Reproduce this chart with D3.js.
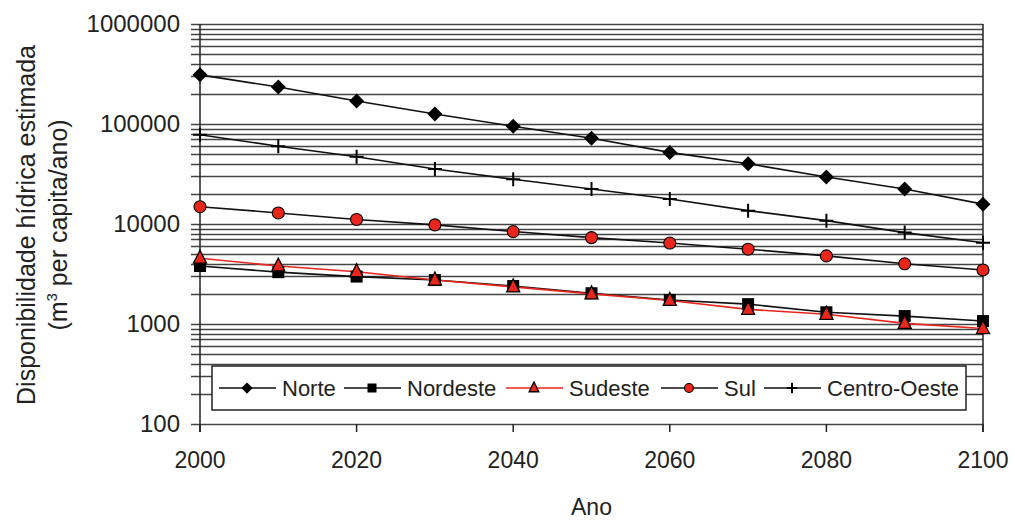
<!DOCTYPE html>
<html>
<head>
<meta charset="utf-8">
<script src="https://cdn.jsdelivr.net/npm/d3@7"></script>
<style>
  body { margin: 0; background: #fff; }
  svg { display: block; }
</style>
</head>
<body>
<svg id="chart" width="1015" height="522"></svg>
<script>
const years = [2000, 2010, 2020, 2030, 2040, 2050, 2060, 2070, 2080, 2090, 2100]
const norte = [310000, 234000, 170000, 126000, 95000, 72000, 52000, 40000, 29500, 22400, 15800]
const nordeste = [3800, 3300, 2980, 2750, 2400, 2030, 1740, 1580, 1310, 1200, 1070]
const sudeste = [4550, 3800, 3330, 2750, 2350, 2000, 1720, 1400, 1250, 1015, 900]
const sul = [14900, 12900, 11100, 9800, 8400, 7300, 6450, 5600, 4800, 4000, 3470]
const centroOeste = [78000, 60000, 47000, 35500, 28000, 22400, 17800, 13600, 10800, 8200, 6500]
const yTicks = [100, 1000, 10000, 100000, 1000000]
const xTicks = [2000, 2020, 2040, 2060, 2080, 2100]

const series = [
  { name: 'Norte', values: norte, line: '#111', marker: 'diamond' },
  { name: 'Nordeste', values: nordeste, line: '#111', marker: 'square' },
  { name: 'Sudeste', values: sudeste, line: '#e8261c', marker: 'triangle' },
  { name: 'Sul', values: sul, line: '#111', marker: 'circle' },
  { name: 'Centro-Oeste', values: centroOeste, line: '#111', marker: 'cross' },
]

const font = 'Liberation Sans, Arial, sans-serif'
const margin = { top: 24, right: 32, bottom: 98, left: 200 }
const width = 1015
const height = 522

const x = d3.scaleLinear().domain([2000, 2100]).range([margin.left, width - margin.right])
const y = d3.scaleLog().domain([100, 1000000]).range([height - margin.bottom, margin.top])

const svg = d3.select('#chart')

// gridlines on every log step, extending left of the axis as ticks
const gridValues = []
for (let e = 2; e < 6; e++) {
  for (let m = 1; m < 10; m++) gridValues.push(m * Math.pow(10, e))
}
gridValues.push(1000000)

svg.append('g')
  .attr('id', 'grid')
  .selectAll('line')
  .data(gridValues)
  .join('line')
  .attr('x1', x(2000) - 9)
  .attr('x2', x(2100))
  .attr('y1', (d) => Math.round(y(d)) + 0.5)
  .attr('y2', (d) => Math.round(y(d)) + 0.5)
  .attr('stroke', '#444')
  .attr('stroke-width', 1.3)

// axes lines
svg.append('line')
  .attr('x1', x(2000)).attr('x2', x(2000))
  .attr('y1', y(1000000)).attr('y2', y(100) + 8)
  .attr('stroke', '#222').attr('stroke-width', 1.5)
svg.append('line')
  .attr('x1', x(2100)).attr('x2', x(2100))
  .attr('y1', y(1000000)).attr('y2', y(100) + 8)
  .attr('stroke', '#222').attr('stroke-width', 1.5)

svg.append('g')
  .selectAll('line')
  .data(xTicks)
  .join('line')
  .attr('x1', (d) => x(d)).attr('x2', (d) => x(d))
  .attr('y1', y(100)).attr('y2', y(100) + 8)
  .attr('stroke', '#222').attr('stroke-width', 1.5)

// tick labels
svg.append('g')
  .selectAll('text')
  .data(yTicks)
  .join('text')
  .attr('x', x(2000) - 20)
  .attr('y', (d) => y(d) + 8)
  .attr('text-anchor', 'end')
  .attr('font-family', font)
  .attr('font-size', 24)
  .attr('fill', '#222')
  .text((d) => d)

svg.append('g')
  .selectAll('text')
  .data(xTicks)
  .join('text')
  .attr('x', (d) => x(d))
  .attr('y', y(100) + 44)
  .attr('text-anchor', 'middle')
  .attr('font-family', font)
  .attr('font-size', 23)
  .attr('fill', '#222')
  .text((d) => d)

// axis titles
svg.append('text')
  .attr('x', (x(2000) + x(2100)) / 2)
  .attr('y', 515)
  .attr('text-anchor', 'middle')
  .attr('font-family', font)
  .attr('font-size', 23)
  .attr('fill', '#222')
  .text('Ano')

const yTitle = svg.append('text')
  .attr('transform', 'translate(35,225) rotate(-90)')
  .attr('text-anchor', 'middle')
  .attr('font-family', font)
  .attr('font-size', 25)
  .attr('fill', '#222')
yTitle.append('tspan').attr('x', 0).attr('y', 0).text('Disponibilidade hídrica estimada')
const sub = svg.append('text')
  .attr('transform', 'translate(67,225) rotate(-90)')
  .attr('text-anchor', 'middle')
  .attr('font-family', font)
  .attr('font-size', 25)
  .attr('fill', '#222')
sub.append('tspan').text('(m')
sub.append('tspan').attr('font-size', 15).attr('dy', -10).text('3')
sub.append('tspan').attr('dy', 10).text(' per capita/ano)')

// markers, k scales the size (legend uses smaller ones)
function drawMarker(g, type, cx, cy, k = 1) {
  if (type === 'diamond') {
    const r = 7.5 * k
    g.append('path')
      .attr('d', `M${cx},${cy - r}L${cx + r},${cy}L${cx},${cy + r}L${cx - r},${cy}Z`)
      .attr('fill', '#000')
  } else if (type === 'square') {
    const r = 6 * k
    g.append('rect')
      .attr('x', cx - r).attr('y', cy - r)
      .attr('width', 2 * r).attr('height', 2 * r)
      .attr('fill', '#000')
  } else if (type === 'triangle') {
    g.append('path')
      .attr('d', `M${cx},${cy - 8 * k}L${cx + 6.5 * k},${cy + 5 * k}L${cx - 6.5 * k},${cy + 5 * k}Z`)
      .attr('fill', '#e8261c')
      .attr('stroke', '#000')
      .attr('stroke-width', 1.3)
  } else if (type === 'circle') {
    g.append('circle')
      .attr('cx', cx).attr('cy', cy).attr('r', 6 * k)
      .attr('fill', '#e8261c')
      .attr('stroke', '#000')
      .attr('stroke-width', 1.1)
  } else if (type === 'cross') {
    const r = 7 * k
    g.append('path')
      .attr('d', `M${cx - r},${cy}H${cx + r}M${cx},${cy - r}V${cy + r}`)
      .attr('stroke', '#000')
      .attr('stroke-width', 2)
  }
}

const line = d3.line()
  .x((d, i) => x(years[i]))
  .y((d) => y(d))

const plot = svg.append('g').attr('id', 'series')

series.forEach((s) => {
  plot.append('path')
    .datum(s.values)
    .attr('d', line)
    .attr('fill', 'none')
    .attr('stroke', s.line)
    .attr('stroke-width', 1.6)
})
series.forEach((s) => {
  const g = plot.append('g')
  s.values.forEach((v, i) => drawMarker(g, s.marker, x(years[i]), y(v)))
})

// legend
const legendBox = { x: 212, y: 366, w: 754, h: 44 }
const legendLayer = svg.append('g').attr('id', 'legend')
legendLayer.append('rect')
  .attr('x', legendBox.x).attr('y', legendBox.y)
  .attr('width', legendBox.w).attr('height', legendBox.h)
  .attr('fill', '#fff')
  .attr('stroke', '#222')
  .attr('stroke-width', 1.5)

const legendStarts = [219, 344, 506, 661, 764]
const ly = legendBox.y + legendBox.h / 2
series.forEach((s, i) => {
  const lx = legendStarts[i]
  const g = legendLayer.append('g')
  g.append('line')
    .attr('x1', lx).attr('x2', lx + 57)
    .attr('y1', ly).attr('y2', ly)
    .attr('stroke', s.line)
    .attr('stroke-width', 1.6)
  drawMarker(g, s.marker, lx + 28, ly, 0.75)
  g.append('text')
    .attr('x', lx + 63)
    .attr('y', ly + 8)
    .attr('font-family', font)
    .attr('font-size', 22)
    .attr('fill', '#222')
    .text(s.name)
})
</script>
</body>
</html>
